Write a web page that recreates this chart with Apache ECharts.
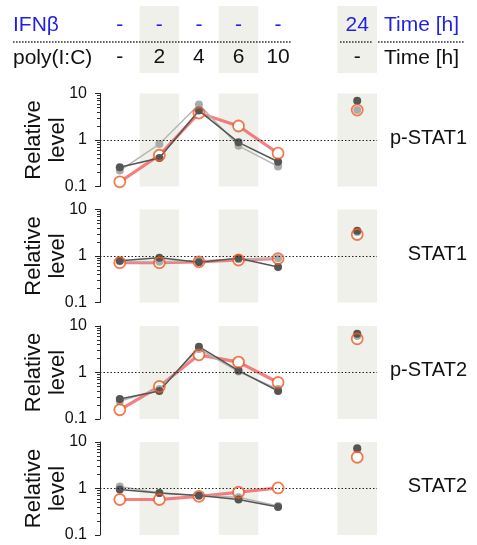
<!DOCTYPE html>
<html><head><meta charset="utf-8">
<script src="https://cdn.jsdelivr.net/npm/echarts@6/dist/echarts.min.js"></script>
<style>html,body{margin:0;padding:0;background:#fff}#c{width:477px;height:545px}</style>
</head><body><div id="c"></div>
<script>
// ---- data ----
const categories = ['0', '2', '4', '6', '10', 'gap', '24'];
const ifnLabels = ['-', '-', '-', '-', '-', '', '24'];
const polyLabels = ['-', '2', '4', '6', '10', '', '-'];
const shaded = [null, 1, null, 1, null, null, 1];
const panelNames = ['p-STAT1', 'STAT1', 'p-STAT2', 'STAT2'];
const yTickMinor = [0.2,0.3,0.4,0.5,0.6,0.7,0.8,0.9,2,3,4,5,6,7,8,9];

const darkPSTAT1  = [0.26, 0.41, 4.3, 0.89, 0.34, null, 7.0];
const lightPSTAT1 = [0.22, 0.82, 5.8, 0.75, 0.27, null, 4.4];
const redPSTAT1   = [0.126, 0.47, 3.8, 2.0, 0.52, null, 4.4];

const darkSTAT1  = [0.79, 0.92, 0.73, 0.89, 0.58, null, 3.5];
const lightSTAT1 = [0.77, 0.75, 0.78, 0.85, 0.90, null, 3.3];
const redSTAT1   = [0.72, 0.72, 0.75, 0.82, 0.88, null, 2.9];

const darkPSTAT2  = [0.27, 0.40, 3.6, 1.10, 0.40, null, 6.8];
const lightPSTAT2 = [0.24, 0.44, 3.2, 1.05, 0.44, null, 6.1];
const redPSTAT2   = [0.158, 0.50, 2.4, 1.67, 0.61, null, 5.3];

const darkSTAT2  = [0.95, 0.80, 0.71, 0.58, 0.40, null, 7.3];
const lightSTAT2 = [1.10, 0.80, 0.70, 0.65, 0.42, null, 7.0];
const redSTAT2   = [0.58, 0.58, 0.68, 0.83, 1.03, null, 4.7];

const panels = [
  [darkPSTAT1, lightPSTAT1, redPSTAT1],
  [darkSTAT1, lightSTAT1, redSTAT1],
  [darkPSTAT2, lightPSTAT2, redPSTAT2],
  [darkSTAT2, lightSTAT2, redSTAT2]
];

// ---- layout ----
const FONT = '"Liberation Sans", Arial, Helvetica, sans-serif';
const gridLeft = 100, gridWidth = 277;
const tops = [93.5, 209.5, 326, 442];
const ph = 93;
const bandColor = '#f0f0eb';
const blue = '#1f1fe6';
const ringColor = '#f05a23';

const grid = [], xAxis = [], yAxis = [], series = [], graphic = [];

tops.forEach((t, p) => {
  grid.push({left: gridLeft, width: gridWidth, top: t, height: ph});
  xAxis.push({type: 'category', gridIndex: p, data: categories, boundaryGap: true, show: false});
  yAxis.push({
    type: 'log', logBase: 10, gridIndex: p, min: 0.1, max: 10, position: 'left', z: 6,
    name: 'Relative\nlevel', nameLocation: 'middle', nameRotate: 90, nameGap: 30,
    nameMoveOverlap: false,
    nameTextStyle: {fontFamily: FONT, fontSize: 22, color: '#111', lineHeight: 24, align: 'center'},
    axisLine: {show: true, lineStyle: {color: '#222', width: 1}},
    axisTick: {show: true, length: 5, lineStyle: {color: '#222'}},
    axisLabel: {show: true, margin: 13, fontFamily: FONT, fontSize: 16, color: '#111',
      formatter: v => String(v)},
    splitLine: {show: false}
  });
  yAxis.push({
    type: 'value', gridIndex: p, min: -1, max: 1, position: 'left', z: 6,
    axisLine: {show: false},
    axisTick: {show: true, length: 3, customValues: yTickMinor.map(v => Math.log10(v)),
      lineStyle: {color: '#333', width: 1}},
    axisLabel: {show: false}, splitLine: {show: false}
  });
  yAxis.push({type: 'value', gridIndex: p, min: 0, max: 1, show: false, position: 'right'});

  const yMain = p * 3, yBand = p * 3 + 2;
  series.push({
    type: 'bar', xAxisIndex: p, yAxisIndex: yBand, data: shaded, barWidth: '100%',
    itemStyle: {color: bandColor}, silent: true, z: 1
  });
  const [dk, lt, rd] = panels[p];
  series.push({
    type: 'line', xAxisIndex: p, yAxisIndex: yMain, data: rd, connectNulls: false,
    symbol: 'circle', symbolSize: 10, showSymbol: true,
    itemStyle: {color: '#fff'},
    lineStyle: {color: 'rgba(240,80,80,0.72)', width: 3.2}, z: 3
  });
  series.push({
    type: 'line', xAxisIndex: p, yAxisIndex: yMain, data: lt, connectNulls: false,
    symbol: 'circle', symbolSize: 8, showSymbol: true,
    itemStyle: {color: '#ababab'}, lineStyle: {color: '#b5b5b5', width: 1.5}, z: 4
  });
  series.push({
    type: 'line', xAxisIndex: p, yAxisIndex: yMain, data: dk, connectNulls: false,
    symbol: 'circle', symbolSize: 8, showSymbol: true,
    itemStyle: {color: '#555'}, lineStyle: {color: '#555', width: 1.5}, z: 4,
    markLine: {silent: true, symbol: 'none', label: {show: false},
      lineStyle: {color: '#222', type: [1.5, 2], width: 1.2}, data: [{yAxis: 1}]}
  });
  series.push({
    type: 'scatter', xAxisIndex: p, yAxisIndex: yMain, data: rd,
    symbol: 'circle', symbolSize: 11,
    itemStyle: {color: 'rgba(0,0,0,0)', borderColor: ringColor, borderWidth: 1.8}, z: 5
  });

  graphic.push({type: 'text', right: 10, top: t + ph / 2 - 12,
    style: {text: panelNames[p], font: '20px ' + FONT, fill: '#111', textAlign: 'right'}});
});

const hg = 4;
grid.push({left: gridLeft, width: gridWidth, top: 6, height: 67});
xAxis.push({type: 'category', gridIndex: hg, data: categories, position: 'top', boundaryGap: true, z: 10,
  axisLine: {show: false}, axisTick: {show: false},
  axisLabel: {inside: true, interval: 0, margin: 9, fontFamily: FONT, fontSize: 21, color: blue,
    formatter: (v, i) => ifnLabels[i]}});
xAxis.push({type: 'category', gridIndex: hg, data: categories, position: 'bottom', boundaryGap: true, z: 10,
  axisLine: {show: false}, axisTick: {show: false},
  axisLabel: {inside: true, interval: 0, margin: 5, fontFamily: FONT, fontSize: 21, color: '#111',
    formatter: (v, i) => polyLabels[i]}});
yAxis.push({type: 'value', gridIndex: hg, min: 0, max: 1, show: false});
series.push({type: 'bar', xAxisIndex: 4, yAxisIndex: 12, data: shaded, barWidth: '100%',
  itemStyle: {color: bandColor}, silent: true, z: 1});

graphic.push({type: 'text', left: 13, top: 15, z: 100, style: {text: 'IFNβ', font: '21px ' + FONT, fill: blue}});
graphic.push({type: 'text', left: 13, top: 48, z: 100, style: {text: 'poly(I:C)', font: '21px ' + FONT, fill: '#111'}});
graphic.push({type: 'text', left: 384, top: 15, z: 100, style: {text: 'Time [h]', font: '21px ' + FONT, fill: blue}});
graphic.push({type: 'text', left: 384, top: 48, z: 100, style: {text: 'Time [h]', font: '21px ' + FONT, fill: '#111'}});
const dotStyle = {stroke: '#333', lineWidth: 1.6, lineDash: [1.6, 1.4]};
graphic.push({type: 'line', z: 100, shape: {x1: 13, y1: 42, x2: 292, y2: 42}, style: dotStyle});
graphic.push({type: 'line', z: 100, shape: {x1: 340, y1: 42, x2: 372, y2: 42}, style: dotStyle});
graphic.push({type: 'line', z: 100, shape: {x1: 378, y1: 42, x2: 465, y2: 42}, style: dotStyle});

const chart = echarts.init(document.getElementById('c'), null, {renderer: 'canvas'});
chart.setOption({
  animation: false,
  backgroundColor: '#fff',
  textStyle: {fontFamily: FONT},
  grid, xAxis, yAxis, series, graphic
});
</script>
</body></html>
